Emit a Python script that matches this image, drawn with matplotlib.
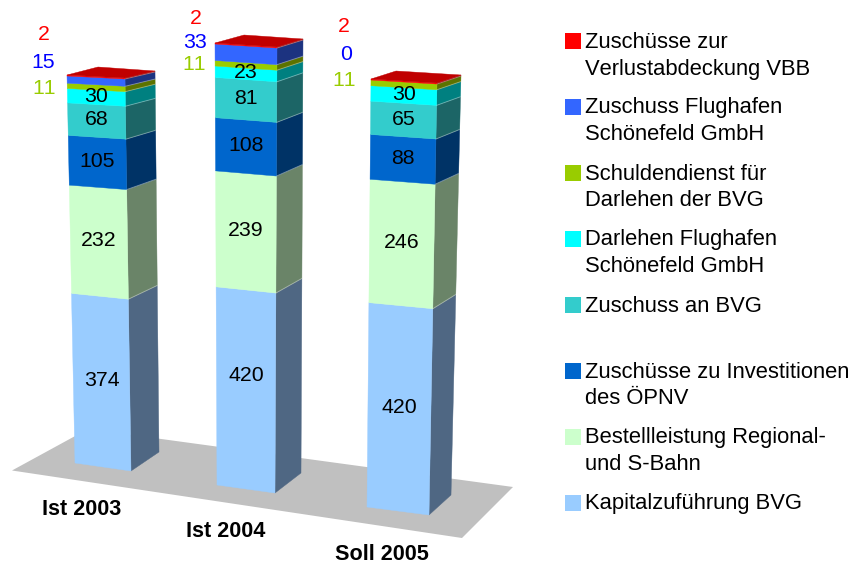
import matplotlib
matplotlib.use("Agg")
import matplotlib.pyplot as plt
from matplotlib.patches import Polygon, Rectangle

plt.rcParams['font.family'] = ['Liberation Sans', 'DejaVu Sans']
plt.rcParams['text.kerning_factor'] = 6

# ---- data ----
categories = ["Ist 2003", "Ist 2004", "Soll 2005"]
kapital = [374, 420, 420]
bestell = [232, 239, 246]
invest = [105, 108, 88]
zuschuss_bvg = [68, 81, 65]
darlehen_fh = [30, 23, 30]
schulden = [11, 11, 11]
zuschuss_fh = [15, 33, 0]
verlust = [2, 2, 2]
series_values = [kapital, bestell, invest, zuschuss_bvg, darlehen_fh, schulden, zuschuss_fh, verlust]
legend_labels = [
    "Zuschüsse zur\nVerlustabdeckung VBB",
    "Zuschuss Flughafen\nSchönefeld GmbH",
    "Schuldendienst für\nDarlehen der BVG",
    "Darlehen Flughafen\nSchönefeld GmbH",
    "Zuschuss an BVG",
    "Zuschüsse zu Investitionen\ndes ÖPNV",
    "Bestellleistung Regional-\nund S-Bahn",
    "Kapitalzuführung BVG",
]

# ---- styles (bottom to top of the stack) ----
front_colors = ["#99CCFF", "#CCFFCC", "#0066CC", "#33CCCC", "#00FFFF", "#99CC00", "#3366FF", "#FF0000"]
side_colors = ["#4F6783", "#6A8468", "#003366", "#1C6566", "#008080", "#5C7300", "#1C3380", "#8A0000"]
cap_color = "#C00000"
floor_color = "#C0C0C0"
outer_colors = {7: "#FF0000", 6: "#0000FF", 5: "#99CC00"}

# ---- layout in figure pixels: the perspective frame of each column ----
# corner: (x_base, y_base, x_top, y_top)
frames = [
    dict(fl=(75, 463, 67, 75), fr=(131, 471, 125, 78), br=(159, 452, 155, 71), bl_top=(98, 67)),
    dict(fl=(217, 485, 215, 43), fr=(275, 493, 277, 47), br=(301, 473, 303, 39), bl_top=(244, 35)),
    dict(fl=(367, 507, 371, 79), fr=(429, 515, 437, 83), br=(451, 495, 461, 75), bl_top=(396, 71)),
]
floor_outline = [(12, 470.5), (88, 429), (513, 487), (462, 538)]
category_pos = [(82, 507), (226, 529), (382, 552)]
outer_label_pos = [
    {7: (44, 33), 6: (43, 60), 5: (44, 86)},
    {7: (196, 17), 6: (195, 41), 5: (194, 63)},
    {7: (344, 25), 6: (346, 52), 5: (344, 78)},
]
label_shift = {(1, 0): -13}   # (column, series): extra vertical offset of the value label
PERSPECTIVE = 1.04
FS = 15.3
FS_LEGEND = 15.8
FS_CAT = 15.6

fig = plt.figure(figsize=(8.61, 5.64), dpi=100)
ax = fig.add_axes([0, 0, 1, 1])
ax.set_xlim(0, 861)
ax.set_ylim(564, 0)
ax.axis("off")


def project(edge, frac):
    """Point on a vertical bar edge for a stack fraction, with slight foreshortening."""
    x0, y0, x1, y1 = edge
    t = frac / (frac + PERSPECTIVE * (1 - frac)) if frac > 0 else 0.0
    return (x0 + (x1 - x0) * t, y0 + (y1 - y0) * t)


ax.add_patch(Polygon(floor_outline, closed=True, fc=floor_color, ec="none", zorder=1))

for b, frame in enumerate(frames):
    total = sum(s[b] for s in series_values)
    cum = 0
    for i, s in enumerate(series_values):
        v = s[b]
        lo, hi = cum / total, (cum + v) / total
        cum += v
        if v > 0:
            fl0, fl1 = project(frame["fl"], lo), project(frame["fl"], hi)
            fr0, fr1 = project(frame["fr"], lo), project(frame["fr"], hi)
            br0, br1 = project(frame["br"], lo), project(frame["br"], hi)
            ax.add_patch(Polygon([fr0, br0, br1, fr1], closed=True, fc=side_colors[i],
                                 ec=side_colors[i], lw=0.3, zorder=2 + b))
            ax.add_patch(Polygon([fl0, fr0, fr1, fl1], closed=True, fc=front_colors[i],
                                 ec=front_colors[i], lw=0.3, zorder=2 + b))
            if i >= 1:
                ax.plot([fr0[0], br0[0]], [fr0[1], br0[1]], color="white", alpha=0.35,
                        lw=0.7, zorder=2.5 + b)
        if i <= 4:
            cx = (fl0[0] + fl1[0] + fr0[0] + fr1[0]) / 4
            cy = (fl0[1] + fl1[1] + fr0[1] + fr1[1]) / 4 - 3 + label_shift.get((b, i), 0)
            ax.text(cx, cy, str(v), ha="center", va="center_baseline", fontsize=FS,
                    color="black", zorder=10)
        else:
            px, py = outer_label_pos[b][i]
            ax.text(px, py, str(v), ha="center", va="center_baseline", fontsize=FS,
                    color=outer_colors[i], zorder=10)
    cap = [frame["fl"][2:], frame["fr"][2:], frame["br"][2:], frame["bl_top"]]
    ax.add_patch(Polygon(cap, closed=True, fc=cap_color, ec=cap_color, lw=0.3, zorder=2 + b))

for name, (x, y) in zip(categories, category_pos):
    ax.text(x, y, name, ha="center", va="center_baseline", fontsize=FS_CAT, fontweight="bold", color="black")

# legend, top entry first
legend_colors = front_colors[::-1]
for k, (lab, col) in enumerate(zip(legend_labels, legend_colors)):
    top = 33 + 66 * k
    ax.add_patch(Rectangle((565, top), 16, 16, fc=col, ec="none"))
    for j, line in enumerate(lab.split("\n")):
        ax.text(585, top + 6.5 + 27 * j, line, ha="left", va="center_baseline",
                fontsize=FS_LEGEND, color="black")

fig.savefig("out.png", dpi=100)
